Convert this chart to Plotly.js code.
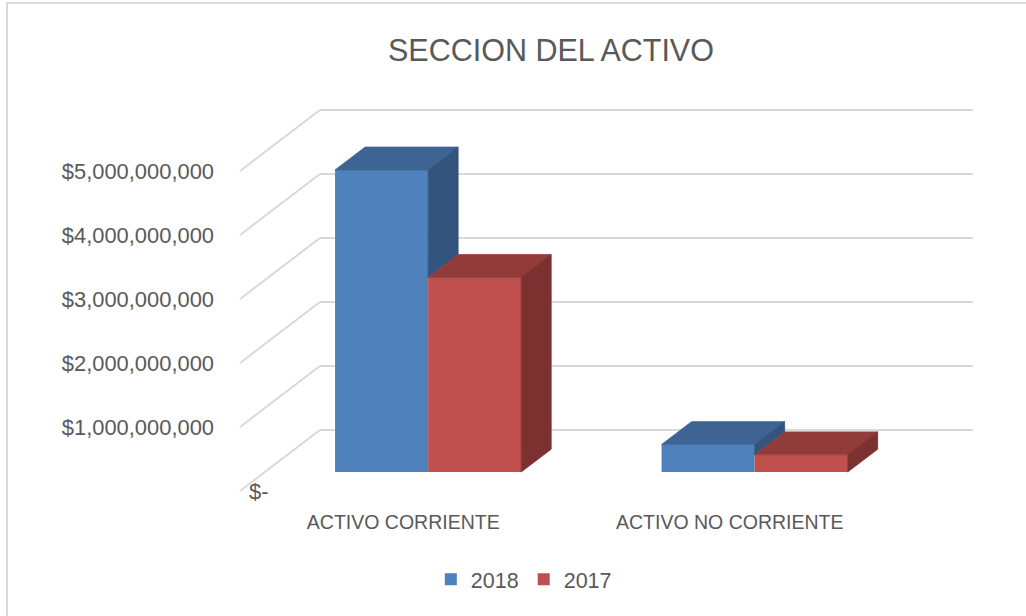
<!DOCTYPE html>
<html>
<head>
<meta charset="utf-8">
<script src="https://cdn.plot.ly/plotly-3.0.1.min.js"></script>
<style>
  html, body { margin: 0; padding: 0; background: #ffffff; overflow: hidden; }
  #chart { position: absolute; left: 0; top: 0; width: 1026px; height: 616px; }
  #frame { position: absolute; left: 6px; top: 2px; width: 1040px; height: 640px;
           border-left: 2px solid #d9d9d9; border-top: 2px solid #d9d9d9; pointer-events: none; }
</style>
</head>
<body>
<div id="chart"></div>
<div id="frame"></div>
<script>
// ---- data ----
const categories = ['ACTIVO CORRIENTE', 'ACTIVO NO CORRIENTE'];
const seriesNames = ['2018', '2017'];
const values2018 = [4.72e9, 0.43e9];
const values2017 = [3.04e9, 0.27e9];
const tickValues = [0, 1e9, 2e9, 3e9, 4e9, 5e9];
const tickLabels = ['$-', '$1,000,000,000', '$2,000,000,000', '$3,000,000,000', '$4,000,000,000', '$5,000,000,000'];

// ---- styling / 3D projection parameters ----
const frontColors = ['#4f81bd', '#c0504d'];
const topColors   = ['#3d6493', '#923c3a'];
const sideColors  = ['#33557d', '#7b3130'];
const gridColor = '#d9d9d9';
const textColor = '#595959';

const X0 = -0.5;            // left edge of the floor (front)
const WALL = 2.0;           // width of the floor/back wall in category units
const DX = 0.245;           // full depth, x component (category units)
const DY = 0.953e9;         // full depth, y component (value units)
const D0 = 0.311;           // depth fraction where bar fronts sit
const DD = 0.375;           // bar depth fraction
const BW = 0.285;           // bar width (category units)

const allSeries = [values2018, values2017];
const xIdx = categories.map((c, i) => i);

const traces = [];
// front faces as real bar traces
allSeries.forEach((vals, k) => {
  traces.push({
    type: 'bar',
    name: seriesNames[k],
    x: xIdx,
    y: vals,
    base: vals.map(() => D0 * DY),
    offset: (k - 1) * BW + D0 * DX,
    width: BW,
    marker: { color: frontColors[k], line: { width: 0 } },
    hovertemplate: categories.map(c => c + '<br>' + seriesNames[k] + ': %{y:$,.0f}<extra></extra>')
  });
});

// top and side faces
allSeries.forEach((vals, k) => {
  vals.forEach((v, i) => {
    const xL = i + (k - 1) * BW + D0 * DX;
    const xR = xL + BW;
    const b = D0 * DY;
    const t = b + v;
    const ox = DD * DX, oy = DD * DY;
    // top face
    traces.push({
      type: 'scatter', mode: 'lines', fill: 'toself', showlegend: false, hoverinfo: 'skip',
      x: [xL, xR, xR + ox, xL + ox, xL],
      y: [t, t, t + oy, t + oy, t],
      fillcolor: topColors[k], line: { color: topColors[k], width: 0.8 }
    });
    // right side face (hidden part behind neighbour bar removed)
    let low = b;
    if (k + 1 < allSeries.length) low = b + Math.min(allSeries[k + 1][i], v);
    if (low < t) {
      traces.push({
        type: 'scatter', mode: 'lines', fill: 'toself', showlegend: false, hoverinfo: 'skip',
        x: [xR, xR, xR + ox, xR + ox, xR],
        y: [low, t, t + oy, low + oy, low],
        fillcolor: sideColors[k], line: { color: sideColors[k], width: 0.8 }
      });
    }
  });
});

// gridlines: left wall diagonals + back wall lines
const shapes = [];
tickValues.forEach(tv => {
  shapes.push({ type: 'line', layer: 'below', xref: 'x', yref: 'y',
    x0: X0, y0: tv, x1: X0 + DX, y1: tv + DY, line: { color: gridColor, width: 2 } });
  shapes.push({ type: 'line', layer: 'below', xref: 'x', yref: 'y',
    x0: X0 + DX, y0: tv + DY, x1: X0 + DX + WALL, y1: tv + DY, line: { color: gridColor, width: 2 } });
});

const layout = {
  width: 1026, height: 616,
  margin: { l: 232, r: 36, t: 100, b: 116 },
  paper_bgcolor: '#ffffff', plot_bgcolor: 'rgba(0,0,0,0)',
  font: { family: 'Liberation Sans, Arial, sans-serif', color: textColor },
  title: {
    text: 'SECCION DEL ACTIVO',
    xref: 'container', yref: 'container', x: 0.537, y: 0.918,
    xanchor: 'center', yanchor: 'middle',
    font: { family: 'Liberation Sans, Arial, sans-serif', size: 30.5, color: textColor }
  },
  barmode: 'overlay',
  showlegend: true,
  legend: {
    orientation: 'h', x: 0.385, xanchor: 'center', y: -0.198, yanchor: 'middle',
    font: { size: 21.5, color: textColor }, itemwidth: 30
  },
  xaxis: {
    type: 'linear', range: [-0.5245, 1.7971], fixedrange: true,
    tickmode: 'array', tickvals: xIdx, ticktext: categories,
    showgrid: false, zeroline: false, showline: false, ticks: '',
    tickfont: { size: 19.5, color: textColor }, ticklabelstandoff: 8
  },
  yaxis: {
    range: [-0.140625e9, 6.109375e9], fixedrange: true,
    tickmode: 'array', tickvals: tickValues.slice(1), ticktext: tickLabels.slice(1),
    showgrid: false, zeroline: false, showline: false, ticks: '',
    tickfont: { size: 21.9, color: textColor }, ticklabelstandoff: 17
  },
  annotations: [{
    xref: 'x', yref: 'y', x: X0 + 0.02, y: tickValues[0], xanchor: 'left', yanchor: 'middle',
    text: tickLabels[0], showarrow: false, font: { size: 21.9, color: textColor }
  }],
  shapes: shapes
};

Plotly.newPlot('chart', traces, layout, { displayModeBar: false, staticPlot: true });
</script>
</body>
</html>
